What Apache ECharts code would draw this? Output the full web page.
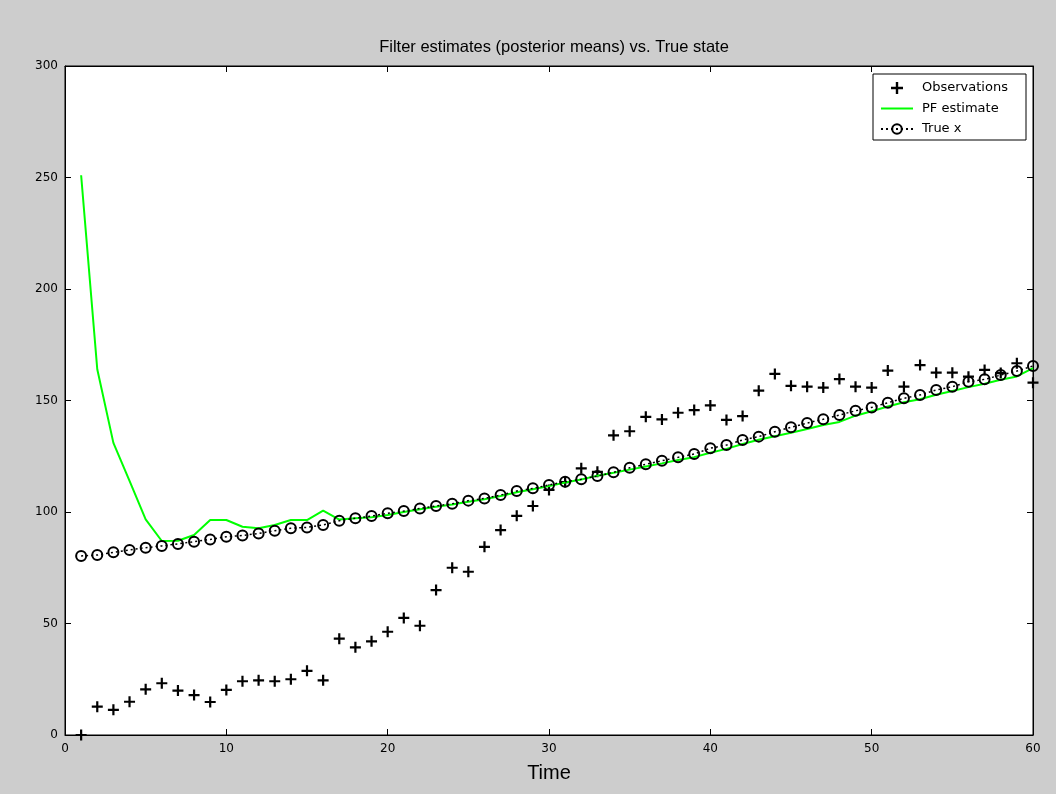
<!DOCTYPE html>
<html>
<head>
<meta charset="utf-8">
<script src="https://cdn.jsdelivr.net/npm/echarts@6/dist/echarts.min.js"></script>
<style>
  html, body { margin: 0; padding: 0; background: #cdcdcd; }
  #chart { width: 1056px; height: 794px; }
</style>
</head>
<body>
<div id="chart"></div>
<script>
// Time steps 1..60
const timeSteps = Array.from({ length: 60 }, (_, i) => i + 1);

// Noisy observations y_t
const observations = [
  0, 12.7, 11.3, 14.9, 20.5, 23.2, 19.9, 17.9, 14.8, 20.2,
  24.1, 24.5, 24.1, 25.0, 28.8, 24.5, 43.2, 39.3, 42.0, 46.3,
  52.5, 49.0, 65.0, 75.0, 73.2, 84.4, 91.9, 98.3, 102.7, 109.9,
  113.4, 119.6, 118.0, 134.4, 136.2, 142.7, 141.5, 144.5, 145.7, 147.8,
  141.3, 143.0, 154.4, 161.9, 156.6, 156.2, 155.8, 159.6, 156.2, 155.8,
  163.4, 156.2, 165.9, 162.5, 162.5, 160.7, 163.7, 162.3, 166.7, 158.0
];

// Particle filter posterior means
const pfEstimate = [
  251.0, 164.0, 131.0, 114.0, 96.7, 87.0, 87.1, 89.7, 96.4, 96.4,
  93.4, 92.7, 94.2, 96.4, 96.4, 100.6, 96.6, 97.2, 97.6, 98.7,
  100.0, 101.2, 102.4, 103.4, 104.6, 105.7, 107.2, 108.9, 110.2, 111.6,
  113.2, 114.6, 116.3, 117.6, 119.0, 120.4, 121.8, 123.3, 124.6, 126.6,
  128.3, 130.5, 132.4, 134.0, 135.5, 137.2, 139.0, 140.4, 143.2, 145.2,
  147.3, 149.2, 150.6, 152.6, 154.3, 156.0, 157.5, 159.3, 160.8, 164.5
];

// True hidden state x_t
const trueState = [
  80.3, 80.7, 81.9, 83.0, 84.0, 84.8, 85.7, 86.7, 87.7, 88.9,
  89.5, 90.4, 91.6, 92.7, 93.1, 94.2, 96.1, 97.2, 98.2, 99.4,
  100.4, 101.6, 102.7, 103.7, 105.1, 106.1, 107.6, 109.4, 110.6, 112.1,
  113.6, 114.7, 116.1, 117.8, 119.8, 121.4, 123.0, 124.5, 126.0, 128.6,
  130.0, 132.3, 133.8, 136.0, 138.0, 139.9, 141.6, 143.5, 145.4, 146.9,
  149.0, 151.0, 152.5, 154.7, 156.2, 158.4, 159.5, 161.4, 163.2, 165.5
];

const xTicks = { min: 0, max: 60, interval: 10 };
const yTicks = { min: 0, max: 300, interval: 50 };

const pair = (vals) => timeSteps.map((t, i) => [t, vals[i]]);

const FONT = 'Liberation Sans, Arial, sans-serif';
const SMALL_FONT = 'DejaVu Sans, sans-serif';
const PLUS = 'path://M4,0h2v4h4v2h-4v4h-2v-4h-4v-2h4z';
const SOLID_LINE = 'path://M0,0h32v2h-32z';

const axisCommon = {
  type: 'value',
  axisLine: { show: true, onZero: false, lineStyle: { color: '#000', width: 1 } },
  axisTick: { show: true, inside: true, length: 6, lineStyle: { color: '#000' } },
  splitLine: { show: false },
  axisLabel: { color: '#000', fontSize: 12, fontFamily: SMALL_FONT }
};

const chart = echarts.init(document.getElementById('chart'), null, { renderer: 'canvas' });

chart.setOption({
  backgroundColor: '#cdcdcd',
  animation: false,
  title: {
    text: 'Filter estimates (posterior means) vs. True state',
    left: 549,
    top: 34,
    textAlign: 'center',
    textStyle: { color: '#000', fontSize: 16.5, fontWeight: 'normal', fontFamily: FONT }
  },
  grid: {
    left: 65, right: 23, top: 66, bottom: 59,
    show: true, backgroundColor: '#fff', borderColor: '#000', borderWidth: 1
  },
  legend: {
    orient: 'vertical',
    left: 873,
    top: 74,
    padding: [7, 4, 4, 7],
    itemGap: 6.5,
    itemWidth: 32,
    itemHeight: 12,
    backgroundColor: '#fff',
    borderColor: '#000',
    borderWidth: 1,
    textStyle: {
      color: '#000', fontSize: 13, fontFamily: SMALL_FONT,
      width: 100, lineHeight: 14, padding: [0, 0, 0, 4]
    },
    data: [
      { name: 'Observations' },
      { name: 'PF estimate', icon: SOLID_LINE, itemStyle: { color: '#00ff00' } },
      { name: 'True x' }
    ]
  },
  xAxis: [
    Object.assign({}, axisCommon, xTicks, {
      position: 'bottom',
      name: 'Time',
      nameLocation: 'middle',
      nameGap: 28,
      nameTextStyle: { color: '#000', fontSize: 20, fontFamily: FONT },
      axisLabel: Object.assign({}, axisCommon.axisLabel, { margin: 8 })
    }),
    Object.assign({}, axisCommon, xTicks, {
      position: 'top',
      axisLabel: { show: false }
    })
  ],
  yAxis: [
    Object.assign({}, axisCommon, yTicks, {
      position: 'left',
      axisLabel: Object.assign({}, axisCommon.axisLabel, { margin: 7 })
    }),
    Object.assign({}, axisCommon, yTicks, {
      position: 'right',
      axisLabel: { show: false }
    })
  ],
  series: [
    {
      name: 'Observations',
      type: 'scatter',
      data: pair(observations),
      symbol: PLUS,
      symbolSize: 11,
      itemStyle: { color: '#000', opacity: 1 },
      z: 3
    },
    {
      name: 'PF estimate',
      type: 'line',
      data: pair(pfEstimate),
      showSymbol: false,
      symbol: 'none',
      lineStyle: { color: '#00ff00', width: 2 },
      itemStyle: { color: '#00ff00' },
      z: 4
    },
    {
      name: 'True x',
      type: 'line',
      data: pair(trueState),
      symbol: 'circle',
      symbolSize: 10,
      showSymbol: true,
      lineStyle: { color: '#000', width: 1.5, type: [2, 3] },
      itemStyle: { color: 'rgba(0,0,0,0)', borderColor: '#000', borderWidth: 2 },
      z: 5
    }
  ]
});
</script>
</body>
</html>
